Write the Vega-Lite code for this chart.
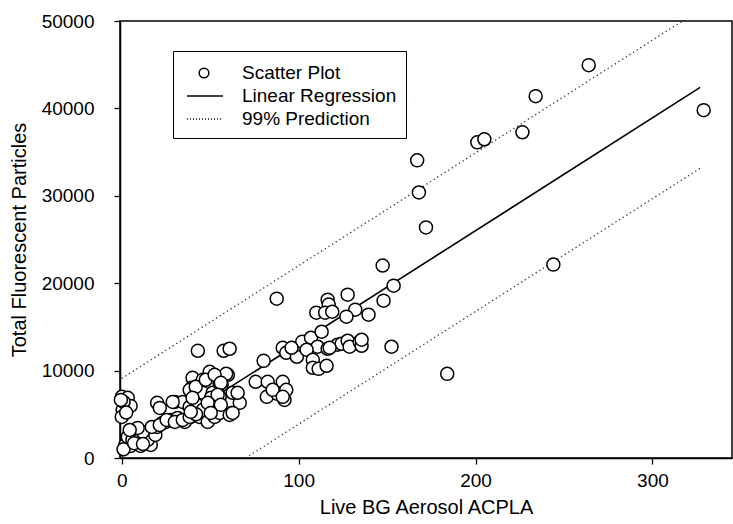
{
  "$schema": "https://vega.github.io/schema/vega-lite/v6.json",
  "width": 612,
  "height": 437,
  "autosize": "none",
  "padding": {"left": 120, "top": 21, "right": 1, "bottom": 66},
  "background": "white",
  "config": {
    "font": "Liberation Sans",
    "view": {"stroke": "black", "strokeWidth": 1.5},
    "axis": {
      "grid": false,
      "domainColor": "black",
      "domainWidth": 1.5,
      "tickColor": "black",
      "tickWidth": 1.3,
      "tickSize": 6,
      "labelColor": "black",
      "labelFontSize": 19,
      "labelFlush": false,
      "titleColor": "black",
      "titleFontSize": 20,
      "titleFontWeight": "normal"
    },
    "legend": {
      "labelFont": "Liberation Sans",
      "labelFontSize": 19,
      "labelColor": "black",
      "labelLimit": 400
    }
  },
  "datasets": {
    "points": [
      {"x": 0, "y": 7000}, {"x": 3.4, "y": 6880}, {"x": 1.7, "y": 6080}, {"x": 5, "y": 5960}, {"x": 0.5, "y": 5500}, {"x": 0, "y": 4700}, {"x": 1, "y": 6420}, {"x": -0.5, "y": 6650}, {"x": 2.5, "y": 5200},
      {"x": 2, "y": 1490}, {"x": 5, "y": 1380}, {"x": 10.7, "y": 1380}, {"x": 16.4, "y": 1490}, {"x": 3.4, "y": 2410}, {"x": 8, "y": 2640}, {"x": 13, "y": 2870}, {"x": 16.4, "y": 2980}, {"x": 6, "y": 2060}, {"x": 10, "y": 2060}, {"x": 14.7, "y": 2060}, {"x": 19, "y": 2640}, {"x": 20, "y": 3550}, {"x": 23, "y": 4010}, {"x": 25, "y": 4130}, {"x": 27.7, "y": 4360}, {"x": 31.6, "y": 4590}, {"x": 35.6, "y": 4130}, {"x": 39, "y": 4700}, {"x": 20, "y": 6310}, {"x": 21.5, "y": 5730}, {"x": 30, "y": 6420}, {"x": 36, "y": 6310}, {"x": 11.9, "y": 2980}, {"x": 17, "y": 3550}, {"x": 21.5, "y": 3780}, {"x": 25.4, "y": 4360}, {"x": 30, "y": 4130}, {"x": 34.5, "y": 4360}, {"x": 38.4, "y": 4700}, {"x": 44, "y": 4700}, {"x": 48.6, "y": 4130}, {"x": 52.5, "y": 4700}, {"x": 62, "y": 5160}, {"x": 66.7, "y": 6310}, {"x": 34.5, "y": 6420}, {"x": 28.8, "y": 6420}, {"x": 38.4, "y": 5850}, {"x": 9, "y": 3440}, {"x": 4.5, "y": 3210}, {"x": 1, "y": 1000}, {"x": 7, "y": 1700}, {"x": 12, "y": 1600},
      {"x": 40, "y": 9170}, {"x": 49.7, "y": 9860}, {"x": 56.5, "y": 8370}, {"x": 60, "y": 9520}, {"x": 44, "y": 8370}, {"x": 39.5, "y": 8030}, {"x": 45.8, "y": 7460}, {"x": 51.4, "y": 7460}, {"x": 55.4, "y": 7000}, {"x": 62.7, "y": 7460}, {"x": 38.4, "y": 7800}, {"x": 59, "y": 9630}, {"x": 55.4, "y": 8490}, {"x": 45.8, "y": 8950}, {"x": 42.4, "y": 6080}, {"x": 49.7, "y": 6080}, {"x": 45.8, "y": 5500}, {"x": 55.4, "y": 5160}, {"x": 61, "y": 4930}, {"x": 65.5, "y": 7460}, {"x": 62.7, "y": 5160}, {"x": 43, "y": 12270}, {"x": 57.6, "y": 12270}, {"x": 61, "y": 12500}, {"x": 80.2, "y": 11120}, {"x": 87.6, "y": 18230}, {"x": 50.5, "y": 6900}, {"x": 42, "y": 5000},
      {"x": 41.8, "y": 8140}, {"x": 47.5, "y": 8950}, {"x": 52.5, "y": 9520}, {"x": 56, "y": 8600}, {"x": 54.2, "y": 7230}, {"x": 40, "y": 6880}, {"x": 48.6, "y": 6310}, {"x": 56, "y": 6080}, {"x": 50.3, "y": 5160}, {"x": 39, "y": 5280},
      {"x": 75.7, "y": 8720}, {"x": 82.5, "y": 8720}, {"x": 91, "y": 8720}, {"x": 82, "y": 7000}, {"x": 88, "y": 7340}, {"x": 92, "y": 6650}, {"x": 93, "y": 7800}, {"x": 85.3, "y": 7800}, {"x": 91, "y": 7000},
      {"x": 91, "y": 12610}, {"x": 93, "y": 12040}, {"x": 99.4, "y": 12610}, {"x": 102, "y": 13300}, {"x": 99, "y": 11580}, {"x": 96, "y": 12610}, {"x": 107, "y": 13760}, {"x": 110.7, "y": 12730}, {"x": 116.4, "y": 12500}, {"x": 104.5, "y": 12390}, {"x": 122, "y": 12960}, {"x": 124.3, "y": 13070}, {"x": 127.7, "y": 13420}, {"x": 128.8, "y": 12730}, {"x": 134.5, "y": 13300}, {"x": 135.6, "y": 12840}, {"x": 108, "y": 11240}, {"x": 108, "y": 10320}, {"x": 111.3, "y": 10200}, {"x": 115.8, "y": 10550}, {"x": 113, "y": 14450}, {"x": 117.5, "y": 12610}, {"x": 135.6, "y": 13530},
      {"x": 127.7, "y": 18690}, {"x": 116.4, "y": 18120}, {"x": 117, "y": 17550}, {"x": 110, "y": 16630}, {"x": 115, "y": 16630}, {"x": 119, "y": 16740}, {"x": 132, "y": 16970}, {"x": 127, "y": 16170}, {"x": 139.5, "y": 16400}, {"x": 148, "y": 18000}, {"x": 153.7, "y": 19720}, {"x": 147.5, "y": 22020}, {"x": 152.5, "y": 12730}, {"x": 167, "y": 34060}, {"x": 168, "y": 30390}, {"x": 172, "y": 26380}, {"x": 184, "y": 9630}, {"x": 201, "y": 36120}, {"x": 205, "y": 36470}, {"x": 226.5, "y": 37270}, {"x": 234, "y": 41400}, {"x": 264, "y": 44950}, {"x": 244, "y": 22130}, {"x": 329, "y": 39800}
    ],
    "legendrows": [
      {"series": "Scatter Plot"}, {"series": "Linear Regression"}, {"series": "99% Prediction"}
    ]
  },
  "layer": [
    {
      "data": {"values": [{"x": 0, "y": 200}, {"x": 327, "y": 42400}]},
      "mark": {"type": "line", "color": "black", "strokeWidth": 1.6},
      "encoding": {
        "x": {"field": "x", "type": "quantitative", "scale": {"domain": [-1, 345], "nice": false, "zero": false}, "axis": {"values": [0, 100, 200, 300], "title": "Live BG Aerosol ACPLA", "labelPadding": 7, "titlePadding": 7}},
        "y": {"field": "y", "type": "quantitative", "scale": {"domain": [0, 50000], "nice": false}, "axis": {"values": [0, 10000, 20000, 30000, 40000, 50000], "format": "d", "title": "Total Fluorescent Particles", "labelPadding": 20, "titlePadding": 12}}
      }
    },
    {
      "data": {"values": [{"x": 0, "y": 9100, "band": "upper"}, {"x": 317, "y": 50000, "band": "upper"}, {"x": 70, "y": 0, "band": "lower"}, {"x": 327, "y": 33150, "band": "lower"}]},
      "mark": {"type": "line", "color": "#333", "strokeWidth": 1.3, "strokeDash": [1.3, 3]},
      "encoding": {
        "x": {"field": "x", "type": "quantitative"},
        "y": {"field": "y", "type": "quantitative"},
        "detail": {"field": "band"}
      }
    },
    {
      "data": {"name": "points"},
      "mark": {"type": "point", "filled": false, "color": "black", "fill": "white", "fillOpacity": 1, "strokeWidth": 1.5, "opacity": 1, "size": 1056, "shape": "M-0.4,0A0.4,0.4,0,1,0,0.4,0A0.4,0.4,0,1,0,-0.4,0Z"},
      "encoding": {
        "x": {"field": "x", "type": "quantitative"},
        "y": {"field": "y", "type": "quantitative"}
      }
    },
    {
      "data": {"name": "legendrows"},
      "mark": {"type": "point", "filled": false, "color": "black", "strokeWidth": 1.5, "size": 0, "opacity": 1},
      "encoding": {
        "shape": {
          "field": "series",
          "type": "nominal",
          "scale": {
            "domain": ["Scatter Plot", "Linear Regression", "99% Prediction"],
            "range": [
              "M0.35,0A0.4,0.4,0,1,0,1.15,0A0.4,0.4,0,1,0,0.35,0Z",
              "M-0.67,0H2.33",
              "M-0.67,0h0.08M-0.42,0h0.08M-0.17,0h0.08M0.08,0h0.08M0.33,0h0.08M0.58,0h0.08M0.83,0h0.08M1.08,0h0.08M1.33,0h0.08M1.58,0h0.08M1.83,0h0.08M2.08,0h0.08"
            ]
          },
          "legend": {
            "title": null,
            "orient": "none",
            "legendX": 53,
            "legendY": 30,
            "strokeColor": "black",
            "padding": 9,
            "symbolSize": 576,
            "symbolStrokeColor": "black",
            "symbolStrokeWidth": 1.5,
            "symbolOpacity": 1,
            "labelFont": "Liberation Sans",
            "labelFontSize": 19,
            "labelColor": "black",
            "labelOffset": 34,
            "rowPadding": 0,
            "labelLimit": 400,
            "encode": {
              "legend": {"update": {"strokeWidth": {"value": 1.3}}},
              "symbols": {"update": {"size": {"value": 576}, "stroke": {"value": "black"}, "fill": {"value": "white"}}}
            }
          }
        }
      }
    }
  ]
}
